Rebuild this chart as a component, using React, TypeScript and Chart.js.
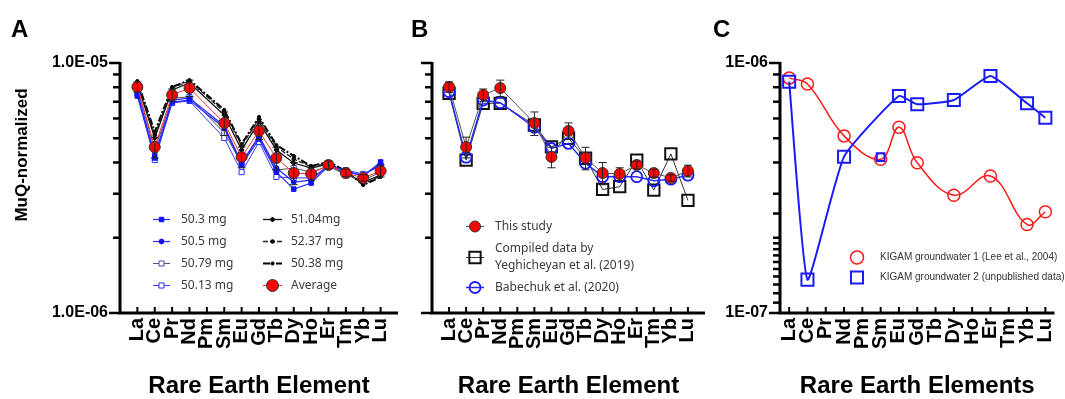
import React, { useEffect, useRef } from 'react';
import { Chart, registerables } from 'chart.js';

Chart.register(...registerables);

// ---------------- data ----------------
const ELEMENTS = ['La', 'Ce', 'Pr', 'Nd', 'Pm', 'Sm', 'Eu', 'Gd', 'Tb', 'Dy', 'Ho', 'Er', 'Tm', 'Yb', 'Lu'];

// Panel A – MuQ-normalized REE of replicate digestions
const A_AVERAGE = [8.02e-6, 4.61e-6, 7.45e-6, 7.94e-6, null, 5.75e-6, 4.21e-6, 5.35e-6, 4.17e-6, 3.63e-6, 3.6e-6, 3.91e-6, 3.63e-6, 3.47e-6, 3.7e-6];
const A_AVERAGE_SD = [0.38e-6, 0.44e-6, 0.42e-6, 0.6e-6, null, 0.62e-6, 0.4e-6, 0.41e-6, 0.43e-6, 0.37e-6, 0.21e-6, 0.14e-6, 0.13e-6, 0.1e-6, 0.2e-6];
const A_50_3MG = [7.38e-6, 4.17e-6, 6.98e-6, 7.11e-6, null, 5.5e-6, 3.91e-6, 4.97e-6, 3.66e-6, 3.13e-6, 3.31e-6, 3.87e-6, 3.7e-6, 3.53e-6, 4.02e-6];
const A_50_5MG = [7.66e-6, 4.29e-6, 7.11e-6, 7.24e-6, null, 5.6e-6, 3.98e-6, 5.11e-6, 3.8e-6, 3.34e-6, 3.4e-6, 3.91e-6, 3.66e-6, 3.56e-6, 3.94e-6];
const A_50_79MG = [7.94e-6, 4.49e-6, 7.24e-6, 7.31e-6, null, 5.25e-6, 3.98e-6, 5.06e-6, 3.73e-6, 3.8e-6, 3.66e-6, 3.87e-6, 3.56e-6, 3.4e-6, 3.66e-6];
const A_50_13MG = [7.52e-6, 4.09e-6, 6.92e-6, 7.05e-6, null, 5.01e-6, 3.66e-6, 4.83e-6, 3.5e-6, 3.47e-6, 3.47e-6, 3.87e-6, 3.73e-6, 3.6e-6, 3.87e-6];
const A_51_04MG = [8.24e-6, 5.01e-6, 7.8e-6, 8.32e-6, null, 6.19e-6, 4.49e-6, 5.81e-6, 4.49e-6, 3.98e-6, 3.8e-6, 3.94e-6, 3.6e-6, 3.34e-6, 3.56e-6];
const A_52_37MG = [8.39e-6, 5.15e-6, 7.94e-6, 8.47e-6, null, 6.37e-6, 4.66e-6, 5.97e-6, 4.61e-6, 4.13e-6, 3.84e-6, 3.98e-6, 3.66e-6, 3.28e-6, 3.53e-6];
const A_50_38MG = [8.47e-6, 5.3e-6, 8.02e-6, 8.55e-6, null, 6.49e-6, 4.74e-6, 6.08e-6, 4.7e-6, 4.25e-6, 3.87e-6, 4.02e-6, 3.7e-6, 3.25e-6, 3.5e-6];

// Panel B – comparison with literature
const B_THIS_STUDY = A_AVERAGE;
const B_THIS_STUDY_SD = A_AVERAGE_SD;
const B_YEGHICHEYAN = [7.57e-6, 4.09e-6, 6.9e-6, 6.9e-6, null, 5.65e-6, 4.62e-6, 5.0e-6, 4.16e-6, 3.12e-6, 3.2e-6, 4.09e-6, 3.1e-6, 4.33e-6, 2.82e-6];
const B_BABECHUK = [7.68e-6, 4.2e-6, 7.11e-6, 6.94e-6, null, 5.53e-6, 4.55e-6, 4.77e-6, 3.97e-6, 3.51e-6, 3.51e-6, 3.51e-6, 3.38e-6, 3.43e-6, 3.56e-6];

// Panel C – KIGAM groundwaters
const C_KIGAM_GW1 = [8.7e-7, 8.24e-7, null, 5.11e-7, null, 4.12e-7, 5.53e-7, 3.99e-7, null, 2.96e-7, null, 3.53e-7, null, 2.26e-7, 2.54e-7];
const C_KIGAM_GW2 = [8.42e-7, 1.36e-7, null, 4.22e-7, null, 4.2e-7, 7.38e-7, 6.84e-7, null, 7.11e-7, null, 8.87e-7, null, 6.9e-7, 6.04e-7];
const C_GW2_UNJOINED = 'Sm';

// axis tick labels
const A_Y_TICK_VALUES = [1e-6, 1e-5];
const A_Y_TICK_LABELS = ['1.0E-06', '1.0E-05'];
const C_Y_TICK_VALUES = [1e-7, 1e-6];
const C_Y_TICK_LABELS = ['1E-07', '1E-06'];

// ---------------- styling helpers ----------------
const FF = '"Liberation Sans", Arial, Helvetica, sans-serif';
const LEGEND_FONT = '12px "Noto Sans", "Open Sans", sans-serif';
const C_LEGEND_FONT = '10px "Liberation Sans", Arial, sans-serif';
const BLUE = '#1a1aff';
const RED = '#ff1a1a';
const CLEAR = 'rgba(255,255,255,0)';

const pts = (arr: (number | null)[]) => arr.map((v, i) => ({ x: i + 1, y: v }));

function matchLabel(v: number, vals: number[], labels: string[]) {
  for (let i = 0; i < vals.length; i++) if (Math.abs(v / vals[i] - 1) < 1e-6) return labels[i];
  return '';
}

function logY(min: number, max: number, width: number, vals: number[], labels: string[]) {
  return {
    type: 'logarithmic',
    position: 'left',
    min,
    max,
    afterFit: (s: any) => {
      s.width = width;
    },
    grid: { display: false, drawTicks: false },
    border: { display: false },
    ticks: {
      autoSkip: false,
      padding: 12,
      color: '#000',
      font: { family: FF, size: 16, weight: 'bold' },
      callback: (v: any) => matchLabel(Number(v), vals, labels),
    },
  };
}

function xTicks() {
  return {
    autoSkip: false,
    minRotation: 90,
    maxRotation: 90,
    padding: 5,
    color: '#000',
    font: { family: FF, size: 20, weight: 'bold', lineHeight: 1 },
  };
}

function xTitle(text: string) {
  return {
    display: true,
    text,
    color: '#000',
    font: { family: FF, size: 24, weight: 'bold', lineHeight: 1 },
    padding: { top: 0, bottom: 1 },
  };
}

function linX(title: string) {
  return {
    type: 'linear',
    position: 'bottom',
    min: 0,
    max: 16,
    afterFit: (s: any) => {
      s.height = 86;
      s.paddingLeft = 0;
      s.paddingRight = 0;
    },
    grid: { display: false, drawTicks: false },
    border: { display: false },
    ticks: { ...xTicks(), stepSize: 1, callback: (v: any) => ELEMENTS[Math.round(Number(v)) - 1] ?? '' },
    title: xTitle(title),
  };
}

function catX(title: string) {
  return {
    type: 'category',
    position: 'bottom',
    offset: true,
    afterFit: (s: any) => {
      s.height = 86;
      s.paddingLeft = 0;
      s.paddingRight = 0;
    },
    grid: { display: false, drawTicks: false },
    border: { display: false },
    ticks: xTicks(),
    title: xTitle(title),
  };
}

// axis lines + tick marks (y ticks outward, x ticks inward)
const framePlugin = {
  id: 'frame',
  beforeDatasetsDraw(chart: any) {
    const { ctx, chartArea: a, scales } = chart;
    const x = scales.x;
    const y = scales.y;
    ctx.save();
    ctx.strokeStyle = '#000';
    ctx.lineCap = 'butt';
    ctx.lineWidth = 3;
    ctx.beginPath();
    ctx.moveTo(a.left, a.top - 1);
    ctx.lineTo(a.left, a.bottom);
    ctx.lineTo(a.right, a.bottom);
    ctx.stroke();
    ctx.lineWidth = 2.5;
    y.ticks.forEach((t: any) => {
      const py = y.getPixelForValue(t.value);
      const lg = Math.log10(t.value);
      const major = Math.abs(lg - Math.round(lg)) < 1e-6;
      const len = major ? 11 : 7;
      ctx.beginPath();
      ctx.moveTo(a.left - len, py);
      ctx.lineTo(a.left, py);
      ctx.stroke();
    });
    ctx.lineWidth = 2;
    x.ticks.forEach((t: any, i: number) => {
      if (!t.label) return;
      const px = x.getPixelForTick(i);
      ctx.beginPath();
      ctx.moveTo(px, a.bottom);
      ctx.lineTo(px, a.bottom - 6);
      ctx.stroke();
    });
    ctx.restore();
  },
};

function errorBarPlugin(dsIndex: number, errors: (number | null)[]) {
  return {
    id: 'errorBars',
    afterDatasetsDraw(chart: any) {
      const { ctx, scales } = chart;
      const ds = chart.data.datasets[dsIndex];
      ctx.save();
      ctx.strokeStyle = '#222';
      ctx.lineWidth = 1;
      ds.data.forEach((p: any, i: number) => {
        const e = errors[i];
        if (p.y == null || e == null) return;
        const px = scales.x.getPixelForValue(p.x);
        const y1 = scales.y.getPixelForValue(p.y + e);
        const y2 = scales.y.getPixelForValue(p.y - e);
        ctx.beginPath();
        ctx.moveTo(px, y1);
        ctx.lineTo(px, y2);
        ctx.moveTo(px - 4, y1);
        ctx.lineTo(px + 4, y1);
        ctx.moveTo(px - 4, y2);
        ctx.lineTo(px + 4, y2);
        ctx.stroke();
      });
      ctx.restore();
    },
  };
}

function drawMarker(ctx: any, style: string, x: number, y: number, r: number, fill: string, stroke: string, bw: number) {
  if (!r) return;
  ctx.beginPath();
  if (style === 'rect') {
    const s = r * Math.SQRT1_2;
    ctx.rect(x - s, y - s, 2 * s, 2 * s);
  } else if (style === 'rectRot') {
    ctx.moveTo(x - r, y);
    ctx.lineTo(x, y - r);
    ctx.lineTo(x + r, y);
    ctx.lineTo(x, y + r);
    ctx.closePath();
  } else {
    ctx.arc(x, y, r, 0, Math.PI * 2);
  }
  ctx.fillStyle = fill;
  ctx.fill();
  if (bw) {
    ctx.lineWidth = bw;
    ctx.strokeStyle = stroke;
    ctx.stroke();
  }
}

type LegendEntry = {
  ds: number;
  mx: number;
  my: number;
  line?: [number, number];
  tx: number;
  texts: [string, number][];
  r?: number;
};

function legendPlugin(offsetX: number, entries: LegendEntry[], font: string, color: string) {
  return {
    id: 'panelLegend',
    afterDatasetsDraw(chart: any) {
      const ctx = chart.ctx;
      ctx.save();
      for (const e of entries) {
        const ds = chart.data.datasets[e.ds];
        if (e.line) {
          ctx.beginPath();
          ctx.setLineDash(ds.borderDash || []);
          ctx.strokeStyle = ds.borderColor;
          ctx.lineWidth = ds.borderWidth;
          ctx.moveTo(e.line[0] - offsetX, e.my);
          ctx.lineTo(e.line[1] - offsetX, e.my);
          ctx.stroke();
          ctx.setLineDash([]);
        }
        const r = e.r ?? ds.pointRadius;
        drawMarker(ctx, ds.pointStyle, e.mx - offsetX, e.my, r, ds.pointBackgroundColor, ds.pointBorderColor, ds.pointBorderWidth);
        ctx.font = font;
        ctx.fillStyle = color;
        ctx.textAlign = 'left';
        ctx.textBaseline = 'middle';
        for (const [t, ty] of e.texts) ctx.fillText(t, e.tx - offsetX, ty);
      }
      ctx.restore();
    },
  };
}

const baseOptions = (padRight: number) => ({
  responsive: false,
  animation: false,
  devicePixelRatio: 1,
  events: [],
  layout: { padding: { top: 63, right: padRight, bottom: 0, left: 0 } },
  plugins: { legend: { display: false }, tooltip: { enabled: false }, title: { display: false } },
});

// ---------------- chart configs ----------------
function configA(): any {
  const common = { spanGaps: true, tension: 0, fill: false };
  const datasets = [
    { ...common, label: 'Average', data: pts(A_AVERAGE), borderColor: '#ff3030', borderWidth: 1, pointStyle: 'circle', pointRadius: 5.5, pointBackgroundColor: '#ff0000', pointBorderColor: '#333', pointBorderWidth: 1 },
    { ...common, label: '50.3 mg', data: pts(A_50_3MG), borderColor: '#2a2aff', borderWidth: 1.2, pointStyle: 'rect', pointRadius: 3.2, pointBackgroundColor: '#1010ff', pointBorderColor: '#1010ff', pointBorderWidth: 1 },
    { ...common, label: '50.5 mg', data: pts(A_50_5MG), borderColor: '#2a2aff', borderWidth: 1.2, pointStyle: 'circle', pointRadius: 2.4, pointBackgroundColor: '#1010ff', pointBorderColor: '#1010ff', pointBorderWidth: 1 },
    { ...common, label: '50.79 mg', data: pts(A_50_79MG), borderColor: '#555', borderWidth: 1, pointStyle: 'rect', pointRadius: 3.6, pointBackgroundColor: '#fff', pointBorderColor: '#4545c8', pointBorderWidth: 1 },
    { ...common, label: '50.13 mg', data: pts(A_50_13MG), borderColor: '#3a3aff', borderWidth: 1, pointStyle: 'rect', pointRadius: 3.6, pointBackgroundColor: '#fff', pointBorderColor: '#2a2aff', pointBorderWidth: 1 },
    { ...common, label: '51.04mg', data: pts(A_51_04MG), borderColor: '#111', borderWidth: 1.3, pointStyle: 'rectRot', pointRadius: 2.5, pointBackgroundColor: '#000', pointBorderColor: '#000', pointBorderWidth: 1 },
    { ...common, label: '52.37 mg', data: pts(A_52_37MG), borderColor: '#222', borderWidth: 1.3, borderDash: [5, 2], pointStyle: 'circle', pointRadius: 1.8, pointBackgroundColor: '#000', pointBorderColor: '#000', pointBorderWidth: 1 },
    { ...common, label: '50.38 mg', data: pts(A_50_38MG), borderColor: '#000', borderWidth: 2, borderDash: [7, 2, 2, 2], pointStyle: 'circle', pointRadius: 1.6, pointBackgroundColor: '#000', pointBorderColor: '#000', pointBorderWidth: 1 },
  ];
  const rows = [219.5, 241.5, 263.5, 285.5];
  const legend: LegendEntry[] = [
    { ds: 1, mx: 161.5, my: rows[0], line: [153, 170], tx: 181, texts: [['50.3 mg', rows[0]]] },
    { ds: 2, mx: 161.5, my: rows[1], line: [153, 170], tx: 181, texts: [['50.5 mg', rows[1]]] },
    { ds: 3, mx: 161.5, my: rows[2], line: [153, 170], tx: 181, texts: [['50.79 mg', rows[2]]] },
    { ds: 4, mx: 161.5, my: rows[3], line: [153, 170], tx: 181, texts: [['50.13 mg', rows[3]]] },
    { ds: 5, mx: 272.5, my: rows[0], line: [263, 282], tx: 291, texts: [['51.04mg', rows[0]]] },
    { ds: 6, mx: 272.5, my: rows[1], line: [263, 282], tx: 291, texts: [['52.37 mg', rows[1]]] },
    { ds: 7, mx: 272.5, my: rows[2], line: [263, 282], tx: 291, texts: [['50.38 mg', rows[2]]] },
    { ds: 0, mx: 272.5, my: rows[3], line: [263, 282], tx: 291, texts: [['Average', rows[3]]], r: 6 },
  ];
  return {
    type: 'line',
    data: { datasets },
    options: {
      ...baseOptions(7),
      scales: { x: linX('Rare Earth Element'), y: logY(1e-6, 1e-5, 120, A_Y_TICK_VALUES, A_Y_TICK_LABELS) },
    },
    plugins: [framePlugin, errorBarPlugin(0, A_AVERAGE_SD), legendPlugin(0, legend, LEGEND_FONT, '#3a3a3a')],
  };
}

function configB(): any {
  const common = { spanGaps: true, tension: 0, fill: false };
  const datasets = [
    { ...common, label: 'This study', data: pts(B_THIS_STUDY), borderColor: '#555', borderWidth: 1, pointStyle: 'circle', pointRadius: 5.5, pointBackgroundColor: '#ff0000', pointBorderColor: '#333', pointBorderWidth: 1 },
    { ...common, label: 'Babechuk et al. (2020)', data: pts(B_BABECHUK), borderColor: '#2828ff', borderWidth: 1.5, pointStyle: 'circle', pointRadius: 5.5, pointBackgroundColor: CLEAR, pointBorderColor: BLUE, pointBorderWidth: 1.8 },
    { ...common, label: 'Compiled data by Yeghicheyan et al. (2019)', data: pts(B_YEGHICHEYAN), borderColor: '#333', borderWidth: 1, pointStyle: 'rect', pointRadius: 8, pointBackgroundColor: CLEAR, pointBorderColor: '#111', pointBorderWidth: 2 },
  ];
  const legend: LegendEntry[] = [
    { ds: 0, mx: 475, my: 226.5, line: [466, 484], tx: 495, texts: [['This study', 226.5]] },
    { ds: 2, mx: 475, my: 257.5, line: [466, 484], tx: 495, texts: [['Compiled data by', 249], ['Yeghicheyan et al. (2019)', 266]] },
    { ds: 1, mx: 475, my: 287.5, line: [466, 484], tx: 495, texts: [['Babechuk et al. (2020)', 287.5]] },
  ];
  return {
    type: 'line',
    data: { datasets },
    options: {
      ...baseOptions(5),
      scales: { x: linX('Rare Earth Element'), y: logY(1e-6, 1e-5, 27, [], []) },
    },
    plugins: [framePlugin, errorBarPlugin(0, B_THIS_STUDY_SD), legendPlugin(405, legend, LEGEND_FONT, '#3a3a3a')],
  };
}

function configC(): any {
  const skipIdx = ELEMENTS.indexOf(C_GW2_UNJOINED);
  const datasets = [
    { label: 'KIGAM groundwater 2 (unpublished data)', data: C_KIGAM_GW2, showLine: false, pointStyle: 'rect', pointRadius: (c: any) => (c.dataIndex === skipIdx ? 5.5 : 8.5), pointBackgroundColor: CLEAR, pointBorderColor: BLUE, pointBorderWidth: 2 },
    { label: 'KIGAM groundwater 2 line', data: C_KIGAM_GW2.map((v, i) => (i === skipIdx ? null : v)), borderColor: BLUE, borderWidth: 2, pointRadius: 0, spanGaps: true, tension: 0.15, fill: false },
    { label: 'KIGAM groundwater 1 (Lee et al., 2004)', data: C_KIGAM_GW1, borderColor: RED, borderWidth: 1.5, pointStyle: 'circle', pointRadius: 6, pointBackgroundColor: CLEAR, pointBorderColor: RED, pointBorderWidth: 1.5, spanGaps: true, tension: 0.4, fill: false },
  ];
  const legend: LegendEntry[] = [
    { ds: 2, mx: 857, my: 257.5, tx: 880, texts: [['KIGAM groundwater 1 (Lee et al., 2004)', 257.5]], r: 6.5 },
    { ds: 0, mx: 857, my: 277.5, tx: 880, texts: [['KIGAM groundwater 2 (unpublished data)', 277.5]], r: 8.5 },
  ];
  return {
    type: 'line',
    data: { labels: ELEMENTS, datasets },
    options: {
      ...baseOptions(7),
      scales: { x: catX('Rare Earth Elements'), y: logY(1e-7, 1e-6, 65, C_Y_TICK_VALUES, C_Y_TICK_LABELS) },
    },
    plugins: [framePlugin, legendPlugin(715, legend, C_LEGEND_FONT, '#333')],
  };
}

// ---------------- component ----------------
const letterStyle = (left: number): React.CSSProperties => ({
  position: 'absolute',
  left,
  top: 17,
  font: `bold 24px ${FF}`,
  lineHeight: 1,
  color: '#000',
});

export default function App() {
  const refA = useRef<HTMLCanvasElement>(null);
  const refB = useRef<HTMLCanvasElement>(null);
  const refC = useRef<HTMLCanvasElement>(null);

  useEffect(() => {
    Chart.defaults.font.family = FF;
    const charts = [
      new Chart(refA.current as HTMLCanvasElement, configA()),
      new Chart(refB.current as HTMLCanvasElement, configB()),
      new Chart(refC.current as HTMLCanvasElement, configC()),
    ];
    return () => charts.forEach((c) => c.destroy());
  }, []);

  return (
    <div style={{ position: 'absolute', left: 0, top: 0, width: 1065, height: 399, background: '#fff', overflow: 'hidden' }}>
      <canvas ref={refA} width={405} height={399} style={{ position: 'absolute', left: 0, top: 0, width: 405, height: 399 }} />
      <canvas ref={refB} width={310} height={399} style={{ position: 'absolute', left: 405, top: 0, width: 310, height: 399 }} />
      <canvas ref={refC} width={350} height={399} style={{ position: 'absolute', left: 715, top: 0, width: 350, height: 399 }} />
      <div style={letterStyle(11)}>A</div>
      <div style={letterStyle(411)}>B</div>
      <div style={letterStyle(713)}>C</div>
      <div
        style={{
          position: 'absolute',
          left: 21,
          top: 155,
          transform: 'translate(-50%, -50%) rotate(-90deg)',
          font: `bold 17px ${FF}`,
          lineHeight: 1,
          whiteSpace: 'nowrap',
          color: '#000',
        }}
      >
        MuQ-normalized
      </div>
    </div>
  );
}
